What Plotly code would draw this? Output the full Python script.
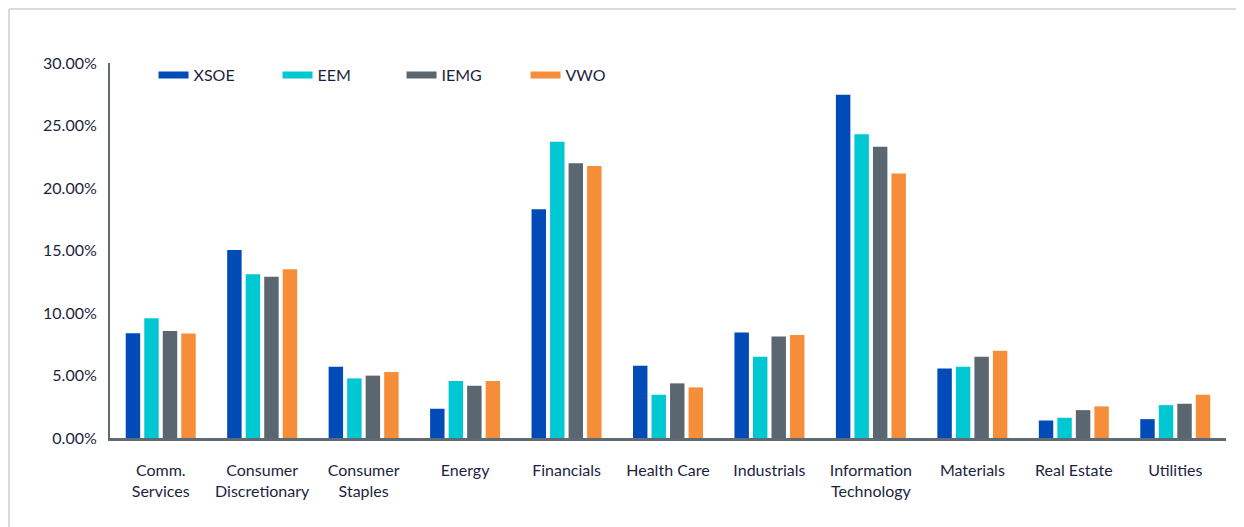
import plotly.graph_objects as go

categories = ["Comm.<br>Services", "Consumer<br>Discretionary", "Consumer<br>Staples", "Energy",
              "Financials", "Health Care", "Industrials", "Information<br>Technology",
              "Materials", "Real Estate", "Utilities"]

xsoe = [8.38, 15.04, 5.71, 2.34, 18.30, 5.79, 8.44, 27.47, 5.57, 1.40, 1.51]
eem  = [9.58, 13.11, 4.77, 4.56, 23.70, 3.46, 6.51, 24.31, 5.71, 1.62, 2.63]
iemg = [8.56, 12.90, 4.99, 4.18, 21.99, 4.37, 8.12, 23.30, 6.51, 2.23, 2.74]
vwo  = [8.36, 13.50, 5.28, 4.56, 21.77, 4.05, 8.25, 21.16, 6.99, 2.53, 3.46]

series_names = ["XSOE", "EEM", "IEMG", "VWO"]
series_values = [xsoe, eem, iemg, vwo]
colors = ["#004bb8", "#00c8d2", "#5a6670", "#f68e39"]

y_ticks = [0, 5, 10, 15, 20, 25, 30]
y_tick_labels = ["0.00%", "5.00%", "10.00%", "15.00%", "20.00%", "25.00%", "30.00%"]

text_color = "#1c1f3e"
font_family = "Lato, 'Noto Sans', sans-serif"

fig = go.Figure()
for name, vals, col in zip(series_names, series_values, colors):
    fig.add_trace(go.Bar(x=categories, y=vals, name=name, marker_color=col,
                         marker_line_width=0, showlegend=False))
for name, col in zip(series_names, colors):
    fig.add_trace(go.Scatter(x=[None], y=[None], mode="lines", name=name,
                             line=dict(color=col, width=7), showlegend=True))

fig.update_layout(
    width=1236, height=519,
    margin=dict(l=102, r=18, t=55, b=88.5),
    paper_bgcolor="white", plot_bgcolor="white",
    barmode="group", bargap=0.27, bargroupgap=0.22,
    font=dict(family=font_family, size=16, color=text_color),
    legend=dict(orientation="h", x=0.039, y=0.968, xanchor="left", yanchor="middle",
                font=dict(size=16, color=text_color), entrywidth=79,
                entrywidthmode="pixels", bgcolor="rgba(0,0,0,0)"),
    shapes=[
        dict(type="line", xref="paper", yref="paper", x0=-0.0905, x1=1.02, y0=1.1438, y1=1.1438,
             line=dict(color="#d9d9df", width=2)),
        dict(type="line", xref="paper", yref="paper", x0=-0.0905, x1=-0.0905, y0=1.1438, y1=-0.3,
             line=dict(color="#d9d9df", width=2)),
    ],
)

fig.update_xaxes(showline=True, linecolor="#5f6a72", linewidth=2.5, showgrid=False,
                 ticks="", ticklabelstandoff=16, tickfont=dict(size=16, color=text_color))
fig.update_yaxes(range=[0, 30], tickvals=y_ticks, ticktext=y_tick_labels, showline=True,
                 linecolor="#5f6a72", linewidth=2, showgrid=False, zeroline=False,
                 ticks="", ticklabelstandoff=8, tickfont=dict(size=16, color=text_color))

fig.write_html("out.html")
